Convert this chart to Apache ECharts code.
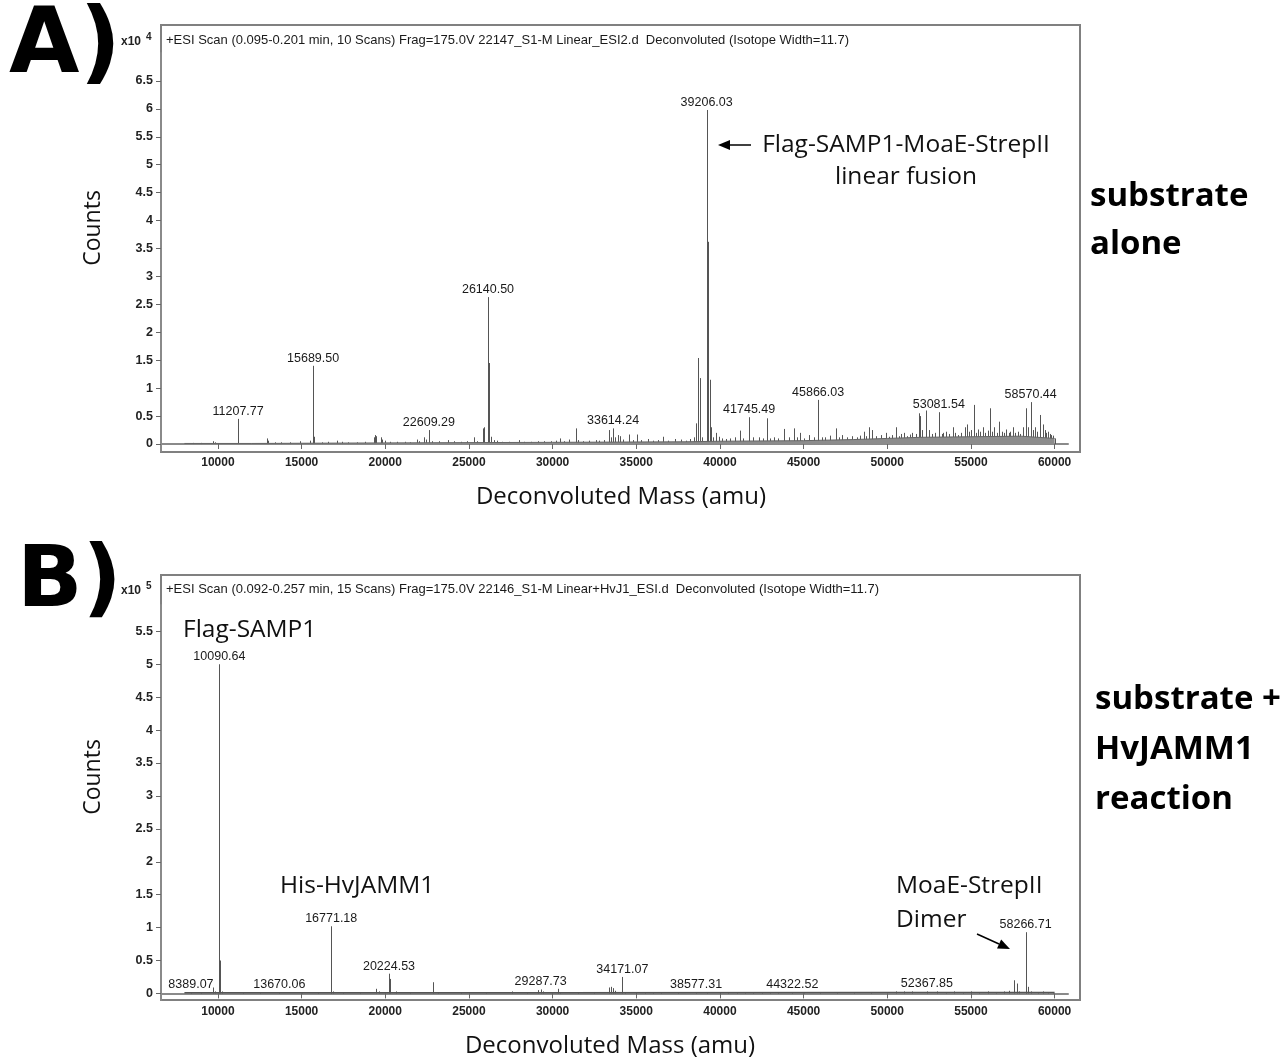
<!DOCTYPE html>
<html><head><meta charset="utf-8">
<script src="https://cdn.jsdelivr.net/npm/echarts@6/dist/echarts.min.js"></script>
<style>html,body{margin:0;padding:0;background:#fff}#c{width:1287px;height:1061px}</style>
</head><body><div id="c"></div>
<script>
// ---------- data ----------
const xTicks = [10000,15000,20000,25000,30000,35000,40000,45000,50000,55000,60000];
const yTicksA = [0,0.5,1,1.5,2,2.5,3,3.5,4,4.5,5,5.5,6,6.5];
const yTicksB = [0,0.5,1,1.5,2,2.5,3,3.5,4,4.5,5,5.5];

// Panel A: [mass (amu), counts x10^4]
const peaksA = [
[8500,0.02],[9000,0.02],[9700,0.05],[9800,0.03],
[11207.77,0.45],
[12930,0.1],[13000,0.06],[13400,0.03],[13800,0.03],[14300,0.03],[14900,0.05],[15500,0.06],
[15689.50,1.40],[15750,0.13],
[16200,0.03],[16600,0.04],[17100,0.06],[17400,0.04],[17800,0.03],[18300,0.03],[18800,0.04],
[19300,0.12],[19380,0.16],[19450,0.14],[19720,0.12],[19800,0.08],[20000,0.06],[20300,0.04],[20700,0.04],
[21200,0.04],[21500,0.03],[21870,0.08],[22000,0.05],[22300,0.12],[22450,0.08],
[22609.29,0.25],[22800,0.05],[23200,0.05],[23740,0.07],[24100,0.05],[24500,0.04],[24900,0.05],
[25300,0.12],[25500,0.05],[25830,0.28],[25900,0.30],
[26140.50,2.63],[26200,1.45],[26300,0.13],[26500,0.07],[26700,0.06],[27000,0.04],[27400,0.04],
[27980,0.07],[28300,0.04],[28700,0.04],[29100,0.05],[29500,0.05],[29900,0.05],[30200,0.06],
[30470,0.1],[30700,0.05],[31000,0.08],[31390,0.28],[31500,0.07],[31800,0.05],[32200,0.06],
[32600,0.07],[32800,0.06],[33100,0.07],[33400,0.25],[33500,0.12],
[33614.24,0.28],[33750,0.12],[33900,0.16],[34000,0.14],[34200,0.08],[34550,0.17],[34800,0.07],
[35030,0.17],[35300,0.07],[35690,0.09],[36000,0.06],[36300,0.07],[36590,0.13],[36900,0.06],
[37300,0.09],[37700,0.08],[38000,0.06],[38200,0.09],[38450,0.12],[38600,0.37],[38700,1.54],
[38780,1.18],[38900,0.12],
[39206.03,5.98],[39260,3.62],[39300,1.74],[39400,1.15],[39450,0.3],[39600,0.12],[39750,0.2],
[39950,0.13],[40100,0.1],[40350,0.09],[40600,0.1],[40900,0.12],[41190,0.24],[41400,0.1],
[41745.49,0.48],[42000,0.12],[42350,0.12],[42600,0.1],[42800,0.46],[43000,0.1],[43250,0.12],
[43500,0.1],[43800,0.27],[44100,0.12],[44400,0.28],[44600,0.12],[44800,0.2],[45000,0.1],
[45300,0.16],[45600,0.12],
[45866.03,0.79],[46100,0.12],[46300,0.12],[46600,0.15],[46920,0.28],[47100,0.12],[47300,0.16],
[47600,0.12],[47900,0.14],[48200,0.12],[48400,0.15],[48600,0.22],[48750,0.14],[48900,0.3],
[49100,0.25],[49300,0.14],[49600,0.16],[49900,0.2],[50100,0.13],[50300,0.16],[50540,0.3],
[50700,0.14],[50850,0.18],[51000,0.2],[51200,0.14],[51350,0.17],[51500,0.2],[51700,0.18],
[51870,0.55],[51950,0.5],[52100,0.25],[52300,0.6],[52500,0.25],[52650,0.18],[52850,0.2],
[53081.54,0.57],[53250,0.18],[53350,0.2],[53500,0.22],[53700,0.18],[53900,0.3],[54050,0.2],
[54200,0.16],[54400,0.2],[54620,0.3],[54750,0.35],[54900,0.22],[55000,0.25],[55160,0.7],
[55300,0.2],[55400,0.26],[55550,0.22],[55700,0.3],[55850,0.2],[56000,0.24],[56120,0.64],
[56250,0.22],[56400,0.3],[56550,0.2],[56700,0.4],[56850,0.22],[57000,0.2],[57100,0.26],
[57250,0.2],[57350,0.22],[57500,0.3],[57650,0.2],[57800,0.22],[57950,0.18],[58100,0.3],
[58280,0.64],[58400,0.3],[58570.44,0.75],[58700,0.25],[58800,0.3],[58950,0.22],[59150,0.52],
[59300,0.35],[59400,0.25],[59500,0.2],[59600,0.22],[59700,0.18],[59800,0.16],[59900,0.15],[60000,0.1]
];
const labelsA = [11207.77,15689.50,22609.29,26140.50,33614.24,39206.03,41745.49,45866.03,53081.54,58570.44];
const baselineA = [[8000,0.01],[12000,0.01],[20000,0.02],[30000,0.03],[38000,0.04],[40000,0.05],[45000,0.06],[48000,0.08],[50000,0.1],[52000,0.12],[55000,0.13],[58000,0.14],[60000,0.1]];

// Panel B: [mass (amu), counts x10^5]
const peaksB = [
[8389.07,0.02],[9000,0.01],[9700,0.09],[9800,0.03],
[10090.64,5.0],[10150,0.5],[10250,0.03],
[11500,0.01],[12500,0.01],[13670.06,0.02],[15000,0.01],[16000,0.01],
[16730,0.27],[16771.18,1.02],[16850,0.03],
[17500,0.01],[18500,0.01],[19440,0.07],[19640,0.03],
[20224.53,0.30],[20280,0.22],[20650,0.03],
[21500,0.01],[22843,0.17],[23180,0.02],[24500,0.01],[26000,0.01],[27560,0.03],[28500,0.01],
[29150,0.05],[29287.73,0.06],[29400,0.03],[30310,0.07],[30450,0.02],[31500,0.01],[32500,0.01],
[33400,0.09],[33500,0.1],[33600,0.08],[33700,0.04],[34171.07,0.25],[34300,0.02],
[35000,0.02],[35500,0.02],[36000,0.02],[36500,0.02],[37500,0.01],[38577.31,0.02],[39200,0.02],
[40000,0.01],[40500,0.02],[41000,0.02],[41500,0.02],[42000,0.02],[42500,0.02],[43000,0.02],
[43500,0.02],[44322.52,0.02],[45000,0.02],[46000,0.02],[47000,0.02],[48000,0.02],[49000,0.02],
[50500,0.03],[51000,0.03],[51500,0.03],[52367.85,0.03],[53000,0.03],[53500,0.02],[54000,0.03],
[54500,0.02],[55000,0.03],[55500,0.02],[56000,0.03],[56500,0.02],[57000,0.03],[57300,0.04],
[57600,0.2],[57750,0.15],[57900,0.03],
[58266.71,0.93],[58320,0.41],[58420,0.1],[58600,0.03],[59000,0.02],[59300,0.03],[59600,0.02],[59900,0.02]
];
const labelsB = [8389.07,10090.64,13670.06,16771.18,20224.53,29287.73,34171.07,38577.31,44322.52,52367.85,58266.71];
const baselineB = [[8000,0.01],[30000,0.01],[50000,0.015],[60000,0.015]];

// ---------- helpers ----------
function heightOf(peaks, m){ const p = peaks.find(q => q[0] === m); return p ? p[1] : 0; }
function labelData(peaks, labels){ return labels.map(m => [m, heightOf(peaks, m)]); }

function stickRender(params, api){
  const m = api.value(0), h = api.value(1);
  const p0 = api.coord([m, 0]), p1 = api.coord([m, h]);
  const x = Math.round(p0[0]) + 0.5;
  return {type:'line', shape:{x1:x, y1:p0[1], x2:x, y2:p1[1]},
    style:{stroke:'#555', lineWidth:1}};
}
function labelRender(params, api){
  const m = api.value(0), h = api.value(1);
  const p = api.coord([m, h]);
  return {type:'text', x:p[0], y:p[1]-1,
    style:{text:m.toFixed(2), align:'center', verticalAlign:'bottom',
      font:'12.5px "Liberation Sans", Arial, sans-serif', fill:'#1a1a1a'}};
}

const FONT = '"Open Sans", "Noto Sans", sans-serif';
function xAxisCfg(gi){
  return {type:'value', gridIndex:gi, min:6600, max:60800,
    axisLine:{show:true, lineStyle:{color:'#8a8a8a', width:2}},
    axisTick:{show:true, customValues:xTicks, length:5, lineStyle:{color:'#666', width:1}},
    axisLabel:{customValues:xTicks, fontFamily:'"Liberation Sans", Arial', fontWeight:'bold', fontSize:12, color:'#222', margin:6,
      formatter: v => String(Math.round(Number(v)))},
    splitLine:{show:false}};
}
function yAxisCfg(gi, min, max, ticks){
  return {type:'value', gridIndex:gi, min:min, max:max,
    axisLine:{show:true, lineStyle:{color:'#8a8a8a', width:2}},
    axisTick:{show:true, customValues:ticks, length:5, lineStyle:{color:'#666', width:1}},
    axisLabel:{customValues:ticks, fontFamily:'"Liberation Sans", Arial', fontWeight:'bold', fontSize:12.5, color:'#222', margin:8,
      formatter: v => String(Math.round(Number(v)*10)/10)},
    splitLine:{show:false}};
}
function arrow(x1,y1,x2,y2){
  const a = Math.atan2(y2-y1, x2-x1), L = 12, W = 5;
  const bx = x2 - L*Math.cos(a), by = y2 - L*Math.sin(a);
  const nx = -Math.sin(a), ny = Math.cos(a);
  return [
    {type:'line', shape:{x1:x1,y1:y1,x2:bx,y2:by}, style:{stroke:'#000', lineWidth:1.5}},
    {type:'polygon', shape:{points:[[x2,y2],[bx+nx*W,by+ny*W],[bx-nx*W,by-ny*W]]}, style:{fill:'#000'}}
  ];
}
function txt(x,y,s,size,opt){
  return {type:'text', x:x, y:y,
    style:Object.assign({text:s, font:size+'px '+FONT, fill:'#111', align:'left', verticalAlign:'middle'}, opt||{})};
}

const chart = echarts.init(document.getElementById('c'), null, {renderer:'canvas'});
chart.setOption({
  animation:false,
  backgroundColor:'#fff',
  grid:[{left:161, right:219, top:53, height:398},{left:161, right:219, top:605, height:395}],
  xAxis:[xAxisCfg(0), xAxisCfg(1)],
  yAxis:[yAxisCfg(0,-0.125,7.0,yTicksA), yAxisCfg(1,-0.1,5.9,yTicksB)],
  series:[
    {type:'line', xAxisIndex:0, yAxisIndex:0, data:baselineA, symbol:'none', lineStyle:{color:'#666', width:1}, areaStyle:{color:'#8c8c8c', opacity:1}, silent:true},
    {type:'custom', xAxisIndex:0, yAxisIndex:0, data:peaksA, renderItem:stickRender, silent:true},
    {type:'custom', xAxisIndex:0, yAxisIndex:0, data:labelData(peaksA, labelsA), renderItem:labelRender, silent:true, clip:false},
    {type:'line', xAxisIndex:1, yAxisIndex:1, data:baselineB, symbol:'none', lineStyle:{color:'#555', width:1.5}, silent:true},
    {type:'custom', xAxisIndex:1, yAxisIndex:1, data:peaksB, renderItem:stickRender, silent:true},
    {type:'custom', xAxisIndex:1, yAxisIndex:1, data:labelData(peaksB, labelsB), renderItem:labelRender, silent:true, clip:false}
  ],
  graphic:[
    // frames
    {type:'rect', shape:{x:161, y:25, width:919, height:427}, style:{fill:'none', stroke:'#808080', lineWidth:2}, silent:true},
    {type:'rect', shape:{x:161, y:575, width:919, height:425}, style:{fill:'none', stroke:'#808080', lineWidth:2}, silent:true},
    // panel letters
    {type:'text', x:9, y:48, style:{text:'A)', font:'bold 91px "DejaVu Sans", sans-serif', fill:'#000', verticalAlign:'middle'}},
    {type:'text', x:17, y:584, style:{text:'B)', font:'bold 86px "DejaVu Sans", sans-serif', fill:'#000', verticalAlign:'middle'}},
    // headers
    {type:'text', x:166, y:40, style:{text:'+ESI Scan (0.095-0.201 min, 10 Scans) Frag=175.0V 22147_S1-M Linear_ESI2.d  Deconvoluted (Isotope Width=11.7)', font:'13px "Liberation Sans", Arial', fill:'#1a1a1a', verticalAlign:'middle'}},
    {type:'text', x:166, y:589, style:{text:'+ESI Scan (0.092-0.257 min, 15 Scans) Frag=175.0V 22146_S1-M Linear+HvJ1_ESI.d  Deconvoluted (Isotope Width=11.7)', font:'13px "Liberation Sans", Arial', fill:'#1a1a1a', verticalAlign:'middle'}},
    // exponent labels
    {type:'text', x:121, y:42, style:{text:'x10', font:'bold 12px "Liberation Sans", Arial', fill:'#222', verticalAlign:'middle'}},
    {type:'text', x:146, y:37, style:{text:'4', font:'bold 10px "Liberation Sans", Arial', fill:'#222', verticalAlign:'middle'}},
    {type:'text', x:121, y:591, style:{text:'x10', font:'bold 12px "Liberation Sans", Arial', fill:'#222', verticalAlign:'middle'}},
    {type:'text', x:146, y:586, style:{text:'5', font:'bold 10px "Liberation Sans", Arial', fill:'#222', verticalAlign:'middle'}},
    // axis titles
    {type:'text', x:93, y:228, rotation:Math.PI/2, style:{text:'Counts', font:'23px '+FONT, fill:'#111', align:'center', verticalAlign:'middle'}},
    {type:'text', x:93, y:777, rotation:Math.PI/2, style:{text:'Counts', font:'23px '+FONT, fill:'#111', align:'center', verticalAlign:'middle'}},
    {type:'text', x:621, y:497, style:{text:'Deconvoluted Mass (amu)', font:'24px '+FONT, fill:'#111', align:'center', verticalAlign:'middle'}},
    {type:'text', x:610, y:1046, style:{text:'Deconvoluted Mass (amu)', font:'24px '+FONT, fill:'#111', align:'center', verticalAlign:'middle'}},
    // right side labels
    txt(1090,197,'substrate',33,{font:'bold 33px '+FONT, fill:'#000'}),
    txt(1090,245,'alone',33,{font:'bold 33px '+FONT, fill:'#000'}),
    txt(1095,700,'substrate +',33,{font:'bold 33px '+FONT, fill:'#000'}),
    txt(1095,750,'HvJAMM1',33,{font:'bold 33px '+FONT, fill:'#000'}),
    txt(1095,800,'reaction',33,{font:'bold 33px '+FONT, fill:'#000'}),
    // annotations A
    txt(906,145,'Flag-SAMP1-MoaE-StrepII',24.5,{align:'center'}),
    txt(906,177,'linear fusion',24.5,{align:'center'}),
    ...arrow(751,145,718,145),
    // annotations B
    txt(183,630,'Flag-SAMP1',24.5),
    txt(280,886,'His-HvJAMM1',24.5),
    txt(896,886,'MoaE-StrepII',24.5),
    txt(896,920,'Dimer',24.5),
    ...arrow(977,934,1010,949)
  ]
});
</script>
</body></html>
